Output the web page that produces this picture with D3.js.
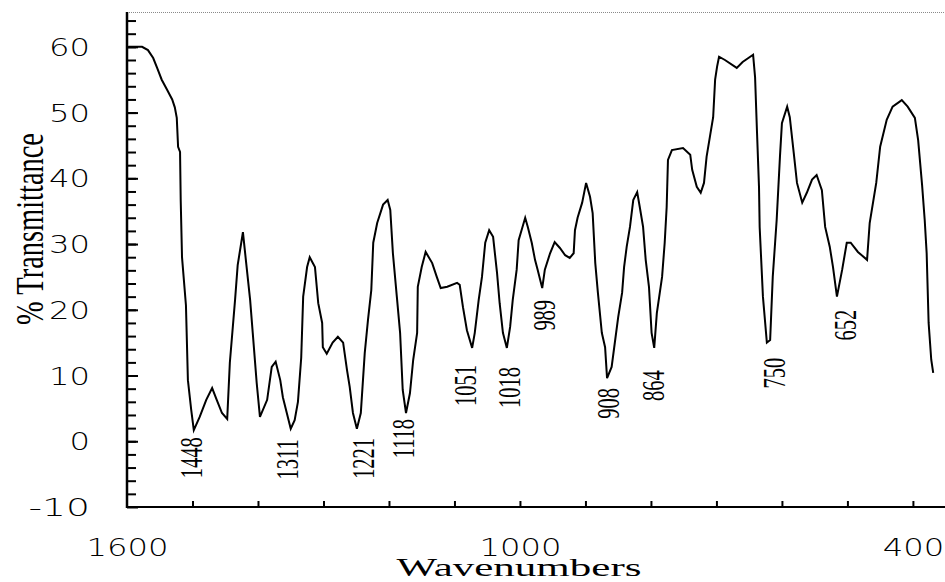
<!DOCTYPE html>
<html>
<head>
<meta charset="utf-8">
<script src="https://cdn.jsdelivr.net/npm/d3@7"></script>
<style>
  html, body { margin: 0; padding: 0; background: #fff; }
  svg { display: block; }
</style>
</head>
<body>
<svg id="chart" width="945" height="582"></svg>
<script>
// ---- data ----
const wavenumbers = [
  1598,1591,1577,1568,1560,1554,1547,1539,1531,1527,1524,1522,1519,1518,1516,1510,1507,1502,1498,1489,
  1479,1470,1463,1455,1447,1443,1435,1431,1423,1418,1412,1408,1402,1397,1386,1379,1373,1366,1362,1356,
  1350,1344,1339,1334,1331,1325,1321,1313,1308,1302,1301,1295,1286,1278,1270,1264,1260,1255,1249,1243,
  1237,1232,1227,1224,1218,1209,1202,1198,1194,1188,1183,1179,1174,1168,1163,1157,1156,1150,1144,1134,
  1127,1121,1111,1096,1092,1087,1081,1073,1069,1063,1058,1053,1047,1041,1035,1031,1026,1020,1015,1011,
  1005,1002,992,988,982,977,973,966,962,954,947,939,931,924,918,916,912,905,899,893,
  889,885,881,875,870,867,860,855,850,844,841,837,832,827,821,817,812,808,803,799,
  795,791,783,779,776,774,768,751,740,737,730,724,719,715,710,705,702,699,696,687,
  669,660,644,641,638,635,634,629,623,618,614,608,603,600,592,588,582,577,569,562,
  554,547,539,534,527,522,516,508,501,495,484,470,466,456,450,440,431,417,408,397,
  392,386,382,379,376,372,369
];
const transmittance = [
  60.0,60.0,60.0,59.5,58.3,56.8,55.0,53.5,52.0,50.8,49.2,44.8,44.0,36.7,28.0,20.7,9.3,4.8,1.7,3.7,
  6.3,8.1,6.3,4.3,3.4,11.9,21.5,26.8,31.8,27.1,21.5,16.5,8.9,3.7,6.3,11.3,12.1,9.3,6.7,4.3,
  1.9,3.2,6.0,12.7,22.0,26.5,28.0,26.5,21.0,18.0,14.3,13.3,15.0,15.9,15.0,10.8,8.3,4.3,1.9,4.3,
  13.4,18.5,23.0,30.2,33.2,36.0,36.7,35.2,28.6,22.0,16.5,7.8,4.3,7.3,12.4,16.5,23.5,26.5,28.8,27.1,
  25.0,23.3,23.5,24.1,23.8,20.4,16.9,14.2,16.5,21.5,25.0,30.2,32.1,31.1,25.6,21.0,16.5,14.2,17.4,21.5,
  26.1,30.6,34.0,32.6,30.2,27.6,26.1,23.3,26.1,28.6,30.3,29.4,28.3,27.9,28.6,32.1,34.0,36.3,39.3,37.2,
  34.7,27.1,22.6,16.5,14.3,9.6,11.3,15.1,18.9,22.6,26.5,29.6,32.6,36.7,37.9,35.6,32.6,27.6,23.5,16.5,
  14.2,19.5,25.0,30.2,35.6,42.8,44.3,44.6,43.6,41.3,38.7,37.8,39.3,43.3,46.3,49.3,55.0,57.0,58.5,58.0,
  56.8,57.7,58.8,55.4,46.9,38.7,32.6,22.0,15.0,15.4,25.0,33.7,43.3,48.4,50.9,49.3,43.9,39.3,36.3,37.8,
  39.8,40.5,38.2,32.6,29.6,26.5,22.0,26.1,30.2,30.2,28.8,27.6,33.2,39.3,44.8,48.9,50.9,51.9,50.9,49.2,
  45.8,39.0,33.7,28.6,18.0,12.4,10.4
];
// peak annotations: label text, wavenumber position of label centre, %T of label top
const peakLabels = ["1448","1311","1221","1118","1051","1018","989","908","864","750","652"];
const peakLabelWn = [1501,1354,1238,1178,1083,1016,962,864,795,611,502];
const peakLabelTop = [0.6,0.3,0.5,3.4,11.6,11.3,21.5,8.1,10.8,12.7,20.0];

const xTickLabels = [1600, 1000, 400];
const xMinorTicks = [1500,1400,1300,1200,1100,1000,900,800,700,600,500,400];
const yTickLabels = [60, 50, 40, 30, 20, 10, 0, -10];
const yMinorTicks = d3.range(-8, 65, 2);

// ---- layout ----
const svg = d3.select("#chart");
const plotLeft = 127, plotRight = 945, plotTop = 12, plotBottom = 507;
const tickFont = "'DejaVu Sans ExtraLight', 'DejaVu Sans', sans-serif";

const x = d3.scaleLinear().domain([1600, 351]).range([plotLeft, plotRight]);
const y = d3.scaleLinear().domain([-10, 65.3]).range([plotBottom, plotTop]);

// top dotted frame line
svg.append("line")
  .attr("x1", plotLeft).attr("x2", plotRight).attr("y1", plotTop + 0.5).attr("y2", plotTop + 0.5)
  .attr("stroke", "#8a8a8a").attr("stroke-width", 1).attr("stroke-dasharray", "1,1");

// y axis minor ticks
const yMinor = svg.append("g").attr("transform", `translate(${plotLeft},0)`)
  .call(d3.axisLeft(y).tickValues(yMinorTicks).tickSize(-9).tickFormat(""));
yMinor.select(".domain").remove();
yMinor.selectAll(".tick line").attr("stroke", "#000").attr("stroke-width", 2);

// y axis major ticks with labels
const yAxis = svg.append("g").attr("transform", `translate(${plotLeft},0)`)
  .call(d3.axisLeft(y).tickValues(yTickLabels).tickSize(-11).tickPadding(37)
    .tickFormat(d => d < 0 ? "-" + Math.abs(d) : String(d)));
yAxis.select(".domain").remove();
yAxis.selectAll(".tick line").attr("stroke", "#000").attr("stroke-width", 2);
yAxis.selectAll(".tick text")
  .attr("font-family", tickFont)
  .attr("font-weight", 200)
  .attr("font-size", 24)
  .attr("fill", "#000")
  .attr("dy", "0.36em")
  .attr("textLength", d => String(d).length * 20.5)
  .attr("lengthAdjust", "spacingAndGlyphs");

// x axis ticks
const xMinor = svg.append("g").attr("transform", `translate(0,${plotBottom})`)
  .call(d3.axisBottom(x).tickValues(xMinorTicks).tickSize(-6).tickFormat(""));
xMinor.select(".domain").remove();
xMinor.selectAll(".tick line").attr("stroke", "#000").attr("stroke-width", 2);

const xAxis = svg.append("g").attr("transform", `translate(0,${plotBottom})`)
  .call(d3.axisBottom(x).tickValues(xTickLabels).tickSize(0).tickPadding(32).tickFormat(d => String(d)));
xAxis.select(".domain").remove();
xAxis.selectAll(".tick text")
  .attr("font-family", tickFont)
  .attr("font-weight", 200)
  .attr("font-size", 24)
  .attr("fill", "#000")
  .attr("textLength", d => String(d).length * 20.5)
  .attr("lengthAdjust", "spacingAndGlyphs");

// axis lines
svg.append("line").attr("x1", plotLeft).attr("x2", plotLeft).attr("y1", plotTop).attr("y2", plotBottom + 1)
  .attr("stroke", "#000").attr("stroke-width", 2.5);
svg.append("line").attr("x1", plotLeft - 1).attr("x2", plotRight).attr("y1", plotBottom).attr("y2", plotBottom)
  .attr("stroke", "#000").attr("stroke-width", 2);

// spectrum
const pts = wavenumbers.map((w, i) => [w, transmittance[i]]);
const line = d3.line().x(d => x(d[0])).y(d => y(d[1])).curve(d3.curveLinear);
svg.append("path").datum(pts)
  .attr("d", line)
  .attr("fill", "none")
  .attr("stroke", "#000")
  .attr("stroke-width", 2)
  .attr("stroke-linejoin", "miter");

// peak labels (vertical)
svg.append("g").selectAll("text").data(peakLabels).join("text")
  .attr("transform", (d, i) => `translate(${x(peakLabelWn[i])},${y(peakLabelTop[i])}) rotate(-90) scale(0.66,1)`)
  .attr("text-anchor", "end")
  .attr("dy", "0.33em")
  .attr("font-family", "'Liberation Serif', 'Times New Roman', serif")
  .attr("font-size", 31)
  .attr("fill", "#000")
  .text(d => d);

// axis titles
svg.append("text")
  .attr("transform", "translate(43,229) rotate(-90)")
  .attr("text-anchor", "middle")
  .attr("font-family", "'Liberation Serif', 'Times New Roman', serif")
  .attr("font-size", 40)
  .attr("fill", "#000")
  .attr("textLength", 192)
  .attr("lengthAdjust", "spacingAndGlyphs")
  .text("% Transmittance");

svg.append("text")
  .attr("x", 519).attr("y", 576)
  .attr("text-anchor", "middle")
  .attr("font-family", "'Liberation Serif', 'Times New Roman', serif")
  .attr("font-size", 26)
  .attr("fill", "#000")
  .attr("textLength", 245)
  .attr("lengthAdjust", "spacingAndGlyphs")
  .text("Wavenumbers");
</script>
</body>
</html>
